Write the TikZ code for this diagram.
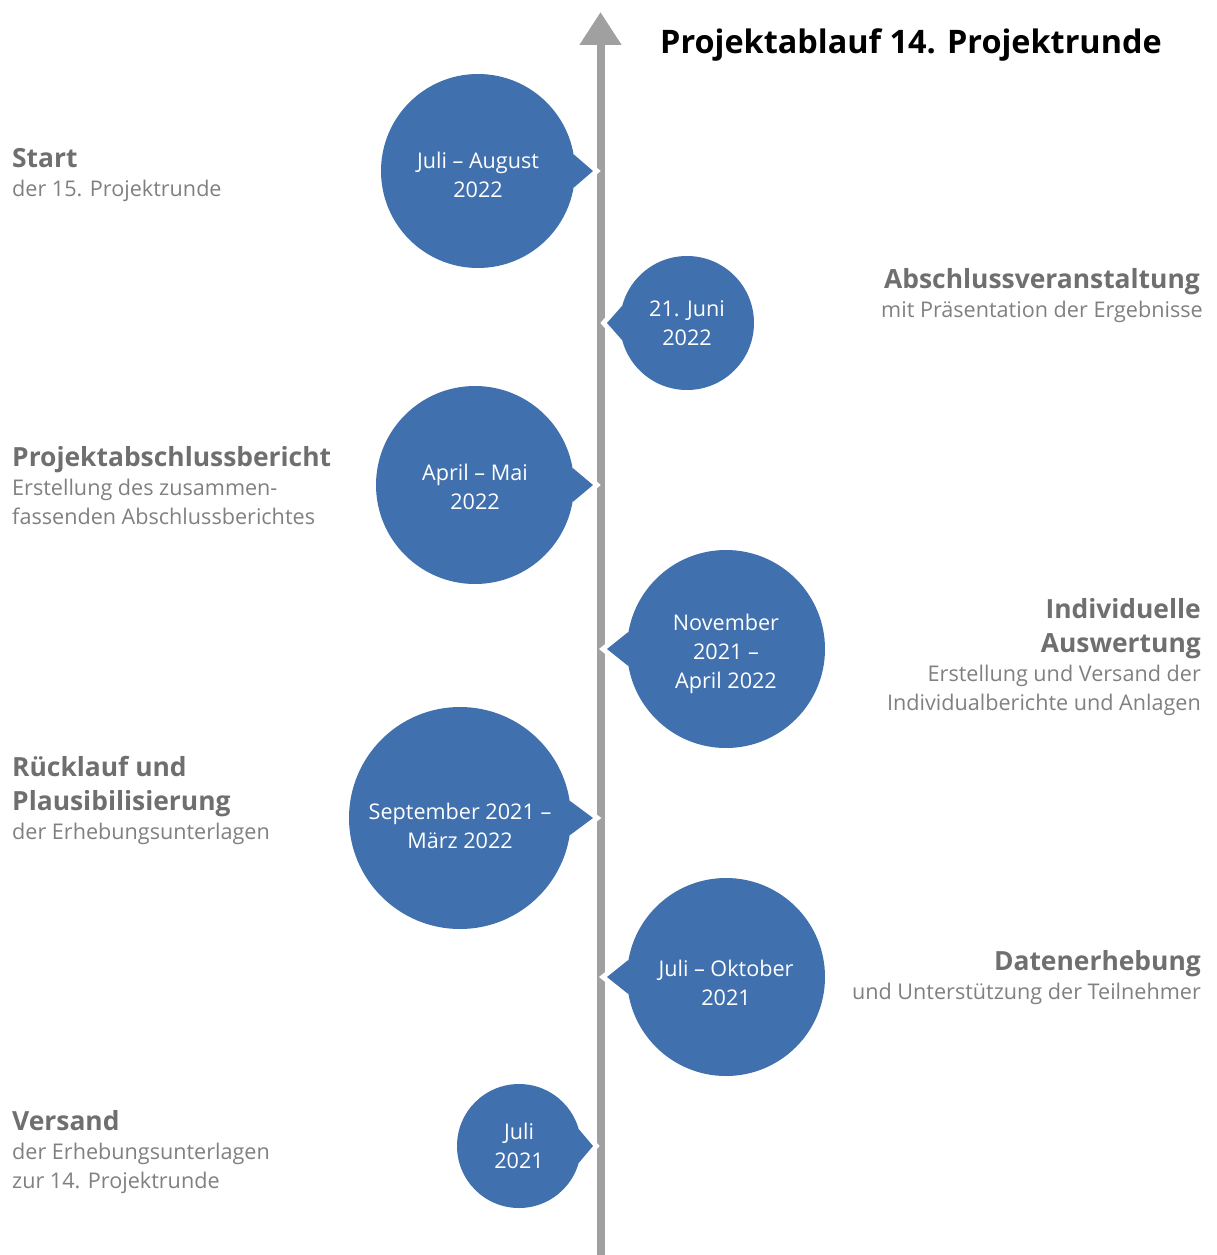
\documentclass[tikz,border=0pt]{standalone}
\usepackage{fontspec}
\setmainfont{Open Sans}
\usetikzlibrary{arrows.meta}
\pgfdeclarelayer{back}
\pgfsetlayers{back,main}
\definecolor{bubblebg}{HTML}{4070AD}
\definecolor{axisgray}{HTML}{A0A0A0}
\definecolor{headgray}{HTML}{6F6F6F}
\definecolor{textgray}{HTML}{808080}
\newcommand{\bodyfont}{\fontsize{21.6}{29}\selectfont}
\newcommand{\hl}[1]{{\fontsize{26.4}{34}\selectfont\bfseries\color{headgray}#1}}
\newcommand{\dn}[1]{\rule{0pt}{#1}}

\begin{document}
\begin{tikzpicture}[x=1pt, y=-1pt,
    bubble/.style={circle, fill=bubblebg, text=white, inner sep=0pt,
                   outer sep=0pt, align=center, font=\bodyfont},
    pointer/.style={fill=bubblebg, preaction={draw=white, line width=10pt}},
    axisline/.style={axisgray, line width=8pt,
                     -{Triangle[width=40pt, length=33pt]}},
    lefttext/.style={anchor=base west, align=left, inner sep=0pt,
                     text=textgray, font=\bodyfont},
    righttext/.style={lefttext, anchor=base east, align=right},
]

    \useasboundingbox (0,0) rectangle (1216,1255);

    % time axis
    \coordinate (axbot) at (600.5,1262);
    \coordinate (axtop) at (600.5,12);

    % date bubbles
    \node[bubble, minimum size=194pt] (c1) at (478,171) {\dn{24.4pt}Juli – August\\2022};
    \node[bubble, minimum size=134pt] (c2) at (687,323) {21. Juni\\2022};
    \node[bubble, minimum size=198pt] (c3) at (475,485) {\dn{20.4pt}April – Mai\\2022};
    \node[bubble, minimum size=198pt] (c4) at (726,649) {\dn{26.4pt}November\\2021 –\\April 2022};
    \node[bubble, minimum size=222pt] (c5) at (460,818) {\dn{32.4pt}September 2021 –\\März 2022};
    \node[bubble, minimum size=198pt] (c6) at (726,977) {\dn{28.4pt}Juli – Oktober\\2021};
    \node[bubble, minimum size=124pt] (c7) at (519,1146) {Juli\\2021};

    \coordinate (p1) at (593,171);
    \coordinate (p2) at (607,323);
    \coordinate (p3) at (593,485);
    \coordinate (p4) at (607,649);
    \coordinate (p5) at (593,818);
    \coordinate (p6) at (607,977);
    \coordinate (p7) at (593,1146);

    \begin{pgfonlayer}{back}
        \draw[axisline] (axbot) -- (axtop);
        \fill[pointer] (c1.10) -- (p1) -- (c1.-10) -- cycle;
        \fill[pointer] (c2.165) -- (p2) -- (c2.195) -- cycle;
        \fill[pointer] (c3.10) -- (p3) -- (c3.-10) -- cycle;
        \fill[pointer] (c4.170) -- (p4) -- (c4.190) -- cycle;
        \fill[pointer] (c5.9) -- (p5) -- (c5.-9) -- cycle;
        \fill[pointer] (c6.170) -- (p6) -- (c6.190) -- cycle;
        \fill[pointer] (c7.16) -- (p7) -- (c7.-16) -- cycle;
    \end{pgfonlayer}

    % title
    \node[anchor=base west, inner sep=0pt,
          font=\fontsize{32.4}{38}\selectfont\bfseries] (title) at (660,53)
          {Projektablauf 14. Projektrunde};

    % phases, left side
    \node[lefttext] (st) at (12,196)
        {\hl{Start}\\der 15. Projektrunde};
    \node[lefttext] (pb) at (12,524)
        {\hl{Projektabschlussbericht}\\Erstellung des zusammen-\\fassenden Abschlussberichtes};
    \node[lefttext] (rp) at (12,839)
        {\hl{Rücklauf und}\\[5pt]\hl{Plausibilisierung}\\der Erhebungsunterlagen};
    \node[lefttext] (vs) at (12,1188)
        {\hl{Versand}\\der Erhebungsunterlagen\\zur 14. Projektrunde};

    % phases, right side
    \node[lefttext, anchor=base, align=center] (ab) at (1042,317)
        {\hl{Abschlussveranstaltung}\\mit Präsentation der Ergebnisse};
    \node[righttext] (ia) at (1201,710)
        {\hl{Individuelle}\\[5pt]\hl{Auswertung}\\Erstellung und Versand der\\Individualberichte und Anlagen};
    \node[righttext] (de) at (1201,999)
        {\hl{Datenerhebung}\\und Unterstützung der Teilnehmer};

\end{tikzpicture}
\end{document}
